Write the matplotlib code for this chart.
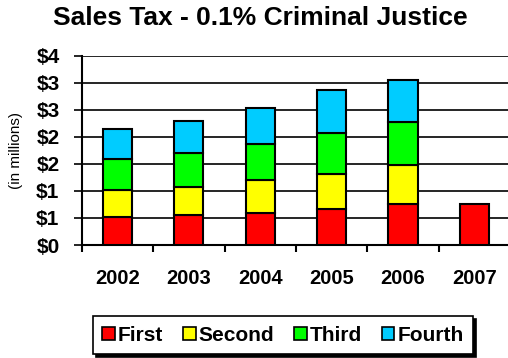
import math
import matplotlib
matplotlib.use("Agg")
import matplotlib.pyplot as plt
from matplotlib.ticker import FuncFormatter, MultipleLocator
import numpy as np

plt.rcParams['font.family'] = ['Liberation Sans', 'DejaVu Sans']

years = ["2002", "2003", "2004", "2005", "2006", "2007"]
quarters = ["First", "Second", "Third", "Fourth"]
first = [0.51, 0.55, 0.59, 0.67, 0.75, 0.76]
second = [0.51, 0.52, 0.61, 0.65, 0.73, 0.0]
third = [0.57, 0.63, 0.66, 0.76, 0.79, 0.0]
fourth = [0.56, 0.60, 0.68, 0.78, 0.79, 0.0]
colors = ["#FF0000", "#FFFF00", "#00FF00", "#00CCFF"]

fig = plt.figure(figsize=(5.08, 3.58), dpi=100)
ax = fig.add_axes([0.161, 0.3156, 0.843, 0.5284])

x = np.arange(len(years))
bottom = np.zeros(len(years))
handles = []
for name, vals, c in zip(quarters, [first, second, third, fourth], colors):
    vals = np.array(vals)
    mask = vals > 0
    bars = ax.bar(x[mask], vals[mask], width=0.41, bottom=bottom[mask], color=c,
                  edgecolor="black", linewidth=1.5, label=name, zorder=3)
    handles.append(bars)
    bottom += vals

ax.set_xlim(-0.5, len(years) - 0.5)
ax.set_ylim(0, 3.5)
ax.yaxis.set_major_locator(MultipleLocator(0.5))
ax.yaxis.set_major_formatter(FuncFormatter(lambda v, p: f"${int(math.floor(v + 0.5))}"))
ax.grid(axis="y", color="black", linewidth=1.2, zorder=0)
ax.set_axisbelow(True)

# category labels centred, tick marks at category boundaries
ax.set_xticks(x)
ax.set_xticklabels(years, fontsize=14.5, fontweight="bold")
ax.set_xticks(np.arange(-0.5, len(years), 1.0), minor=True)
ax.tick_params(axis="x", which="major", length=0, pad=17)
ax.tick_params(axis="x", which="minor", length=5, width=1.5, direction="out")
ax.tick_params(axis="y", length=6, width=1.2, labelsize=15, pad=10)
for lab in ax.get_yticklabels():
    lab.set_fontweight("bold")

for s in ["top", "right"]:
    ax.spines[s].set_visible(False)
ax.spines["left"].set_linewidth(1.5)
ax.spines["bottom"].set_linewidth(1.5)

ax.set_ylabel("(in millions)", fontsize=11)
ax.yaxis.set_label_coords(-0.137, 0.5)

fig.text(0.513, 0.95, "Sales Tax - 0.1% Criminal Justice", ha="center", va="center",
         fontsize=19, fontweight="bold")

leg = fig.legend(handles=handles, labels=quarters, loc="center", bbox_to_anchor=(0.557, 0.064),
                 ncol=4, frameon=True, fancybox=False, handlelength=0.6, handleheight=0.6,
                 handletextpad=0.15, columnspacing=0.95, borderpad=0.45, borderaxespad=0,
                 prop={"weight": "bold", "size": 15},
                 shadow={"color": "black", "alpha": 1.0})
leg.get_frame().set_edgecolor("black")
leg.get_frame().set_linewidth(1.2)
for h in leg.legend_handles:
    h.set_linewidth(1.2)

fig.savefig("out.png", dpi=100)
